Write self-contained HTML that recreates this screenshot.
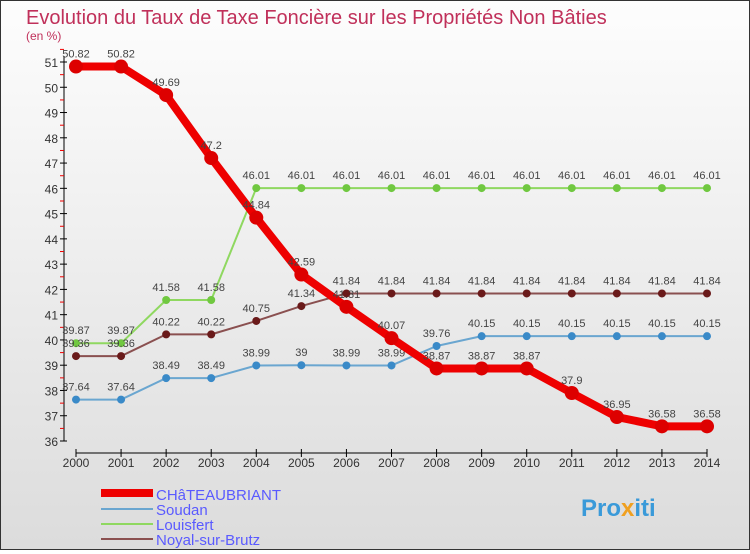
<!DOCTYPE html>
<html><head><meta charset="utf-8"><style>
body{margin:0;width:750px;height:550px;overflow:hidden}
#wrap{position:relative;width:748px;height:548px;border:1px solid #333;background:linear-gradient(#fdfdfd,#dcdcdc)}
svg text{font-family:"Liberation Sans",sans-serif}
</style></head><body>
<div id="wrap">
<svg id="chart" width="748" height="548">
<text x="25" y="23" font-size="20" fill="#c0305a">Evolution du Taux de Taxe Foncière sur les Propriétés Non Bâties</text>
<text x="25" y="39" font-size="12" fill="#c0305a">(en %)</text>
<g id="axes"></g><g id="series"></g>
<g>
<rect x="100" y="488" width="52" height="8" fill="#e00"/>
<text x="155" y="499" font-size="15" fill="#5a5aff">CHâTEAUBRIANT</text>
<line x1="100" y1="508" x2="152" y2="508" stroke="#6aa6d0" stroke-width="2"/>
<text x="155" y="514" font-size="15" fill="#5a5aff">Soudan</text>
<line x1="100" y1="523" x2="152" y2="523" stroke="#8fd860" stroke-width="2"/>
<text x="155" y="529" font-size="15" fill="#5a5aff">Louisfert</text>
<line x1="100" y1="538" x2="152" y2="538" stroke="#8a5050" stroke-width="2"/>
<text x="155" y="544" font-size="15" fill="#5a5aff">Noyal-sur-Brutz</text>
</g>
<text x="580" y="515" font-size="24" font-weight="bold" fill="#3a9ad9">Pro<tspan fill="#f0a020">x</tspan>iti</text>
</svg></div>
<script>
const years=[2000,2001,2002,2003,2004,2005,2006,2007,2008,2009,2010,2011,2012,2013,2014];
const chateaubriant=[50.82,50.82,49.69,47.2,44.84,42.59,41.31,40.07,38.87,38.87,38.87,37.9,36.95,36.58,36.58];
const soudan=[37.64,37.64,38.49,38.49,38.99,39,38.99,38.99,39.76,40.15,40.15,40.15,40.15,40.15,40.15];
const louisfert=[39.87,39.87,41.58,41.58,46.01,46.01,46.01,46.01,46.01,46.01,46.01,46.01,46.01,46.01,46.01];
const noyal=[39.36,39.36,40.22,40.22,40.75,41.34,41.84,41.84,41.84,41.84,41.84,41.84,41.84,41.84,41.84];
const yTicks=[36,37,38,39,40,41,42,43,44,45,46,47,48,49,50,51];
const NS="http://www.w3.org/2000/svg";
const xs=i=>75+i*(631/14);
const ys=v=>440-(v-36)*(379/15);
function mk(t,a,p){const e=document.createElementNS(NS,t);for(const k in a)e.setAttribute(k,a[k]);p.appendChild(e);return e;}
const ax=document.getElementById('axes');
let l=mk('line',{x1:63,y1:55,x2:63,y2:440,stroke:'#000'},ax);


l=mk('line',{x1:75,y1:452,x2:706,y2:452,stroke:'#000'},ax);


yTicks.forEach(v=>{const y=ys(v);mk('line',{x1:59,y1:y,x2:66,y2:y,stroke:'#000'},ax);
 mk('line',{x1:59,y1:y-12.6,x2:63,y2:y-12.6,stroke:'#e00'},ax);
 const t=mk('text',{x:57,y:y+5,'font-size':12,'text-anchor':'end',fill:'#333'},ax);t.textContent=v;
 
 });
years.forEach((yr,i)=>{const x=xs(i);mk('line',{x1:x,y1:448,x2:x,y2:456,stroke:'#000'},ax);
 const t=mk('text',{x:x,y:466,'font-size':12,'text-anchor':'middle',fill:'#333'},ax);t.textContent=yr;
 
 });
const sg=document.getElementById('series');
function draw(name,vals,col,dot,w,r){
 const g=mk('g',{},sg);
 
 
 mk('polyline',{points:vals.map((v,i)=>xs(i)+','+ys(v)).join(' '),fill:'none',stroke:col,'stroke-width':w,'stroke-linejoin':'round'},g);
 vals.forEach((v,i)=>{const c=mk('circle',{cx:xs(i),cy:ys(v),r:r,fill:dot},g);
  
  
  const t=mk('text',{x:xs(i),y:ys(v)-9,'font-size':11,'text-anchor':'middle',fill:'#444'},g);t.textContent=v;
  
  });
}
draw('soudan',soudan,'#6aa6d0','#3a8ac8',2,4);
draw('louisfert',louisfert,'#8fd860','#70c840',2,4);
draw('noyal',noyal,'#8a5050','#6a1a1a',2,4);
draw('chateaubriant',chateaubriant,'#e00','#d00',8,7);
</script>
</body></html>
